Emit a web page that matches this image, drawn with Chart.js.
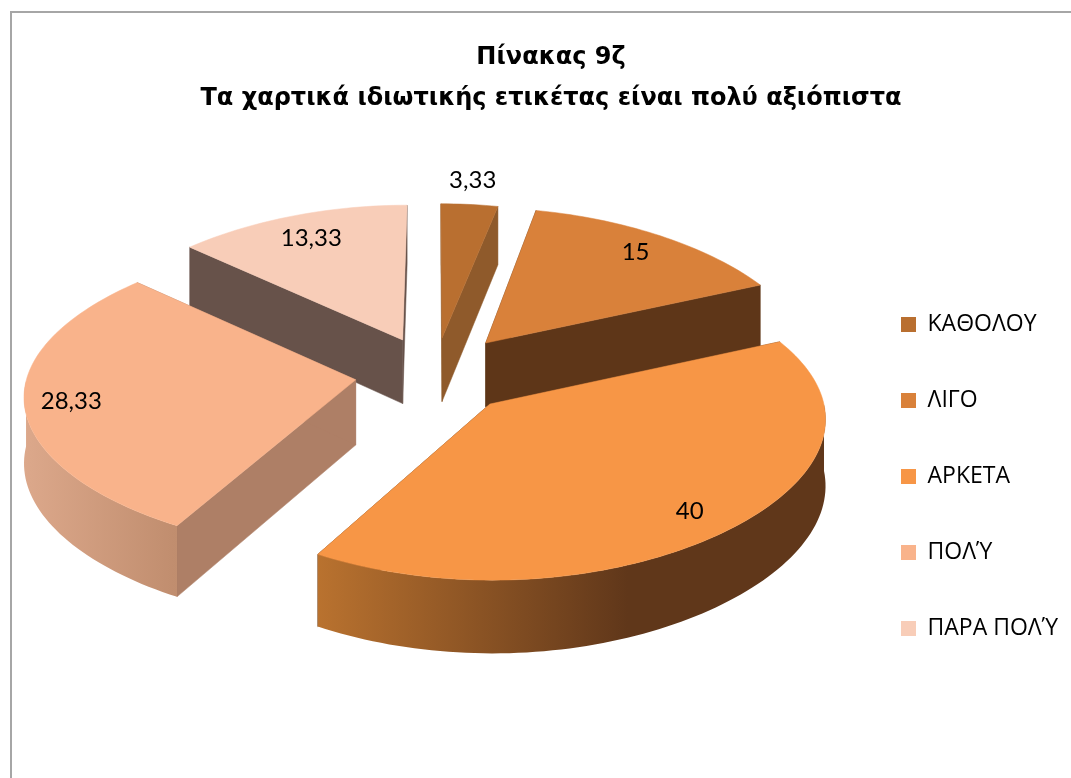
<!DOCTYPE html>
<html>
<head>
<meta charset="utf-8">
<title>Πίνακας 9ζ</title>
<script src="https://cdn.jsdelivr.net/npm/chart.js@4"></script>
<style>
html, body { margin: 0; padding: 0; background: #fff; }
canvas { display: block; }
</style>
</head>
<body>
<canvas id="chart-pie" width="1071" height="778"></canvas>
<script>
// data
const categories = ['ΚΑΘΟΛΟΥ', 'ΛΙΓΟ', 'ΑΡΚΕΤΑ', 'ΠΟΛΎ', 'ΠΑΡΑ ΠΟΛΎ'];
const percentages = [3.33, 15, 40, 28.33, 13.33];
const titleLines = ['Πίνακας 9ζ', 'Τα χαρτικά ιδιωτικής ετικέτας είναι πολύ αξιόπιστα'];

// styling per slice
const topColors = ['#B96F30', '#D9813A', '#F79646', '#F9B38B', '#F8CDB8'];
const wallColors = ['#8F5A2B', '#5E3618', '#63391A', '#AE7F66', '#67524A'];
const sideColors = [['#8F5A2B', '#8F5A2B'], ['#6B3F1C', '#5E3618'], ['#B9722F', '#60371A'], ['#DCA88B', '#C08D6E'], ['#B9998A', '#67524A']];
const explode = [79, 84, 82, 79, 79];
const sliceDy = [-2, -3, -1, -2, -3];
const labelRatio = [1.2, 0.84, 0.85, 0.86, 0.81];
const labelShiftX = [-1, 0, 0, 0, 0];
const drawOrder = [4, 0, 1, 3, 2]; // back to front

const view = { cx: 434, cy: 376, tilt: 0.468, wxA: 0.105, wxB: 0.045, perspY: 0.095, depth: 65 };

// pie plane -> screen, near edge is a bit bigger
function project(u, v, z, R, i) {
    const t = v / R;
    const wx = 1 - view.wxA * t + view.wxB * t * t;
    const wy = 1 - view.perspY * t;
    return { x: view.cx + u / wx, y: view.cy + sliceDy[i] + (view.tilt * v + z) / wy };
}

function slicePoints(el, i) {
    const mid = (el.startAngle + el.endAngle) / 2;
    const off = explode[i];
    return { mid, ou: off * Math.cos(mid), ov: off * Math.sin(mid), R: el.outerRadius };
}

function facePath(ctx, pts) {
    ctx.beginPath();
    pts.forEach((p, n) => n ? ctx.lineTo(p.x, p.y) : ctx.moveTo(p.x, p.y));
    ctx.closePath();
}

function fillFace(ctx, pts, color) {
    facePath(ctx, pts);
    ctx.fillStyle = color;
    ctx.strokeStyle = color;
    ctx.lineWidth = 0.5;
    ctx.fill();
    ctx.stroke();
}

function arcAngles(el) {
    const list = [];
    const steps = Math.max(8, Math.ceil((el.endAngle - el.startAngle) * 40));
    for (let k = 0; k <= steps; k++) list.push(el.startAngle + (el.endAngle - el.startAngle) * k / steps);
    return list;
}

function arcPoint(s, a, z, i) {
    return project(s.ou + s.R * Math.cos(a), s.ov + s.R * Math.sin(a), z, s.R, i);
}

const pie3d = {
    id: 'pie3d',
    beforeDatasetsDraw(chart) {
        const ctx = chart.ctx;
        const arcs = chart.getDatasetMeta(0).data;
        ctx.save();
        drawOrder.forEach(i => {
            const el = arcs[i];
            const s = slicePoints(el, i);
            const angles = arcAngles(el);
            const topArc = angles.map(a => arcPoint(s, a, 0, i));
            const lowArc = angles.map(a => arcPoint(s, a, view.depth, i));
            const hub = project(s.ou, s.ov, 0, s.R, i);
            const hubLow = project(s.ou, s.ov, view.depth, s.R, i);
            // cut faces
            fillFace(ctx, [hub, topArc[0], lowArc[0], hubLow], wallColors[i]);
            fillFace(ctx, [hub, topArc[topArc.length - 1], lowArc[lowArc.length - 1], hubLow], wallColors[i]);
            // outer skin, only the part that faces the viewer
            const near = angles.filter(a => Math.sin(a) >= 0);
            if (near.length > 1) {
                const upper = near.map(a => arcPoint(s, a, 0, i));
                const lower = near.map(a => arcPoint(s, a, view.depth, i));
                const xs = upper.map(p => p.x);
                const x0 = Math.min(...xs);
                const grad = ctx.createLinearGradient(x0, 0, Math.min(Math.max(...xs), x0 + 310), 0);
                grad.addColorStop(0, sideColors[i][0]);
                grad.addColorStop(1, sideColors[i][1]);
                facePath(ctx, upper.concat(lower.slice().reverse()));
                ctx.fillStyle = grad;
                ctx.fill();
            }
            // top
            fillFace(ctx, [hub].concat(topArc), topColors[i]);
        });
        ctx.restore();
        return false;
    },
    afterDraw(chart) {
        const ctx = chart.ctx;
        const arcs = chart.getDatasetMeta(0).data;
        ctx.save();
        ctx.font = '24px Lato, "Open Sans", sans-serif';
        ctx.fillStyle = '#000';
        ctx.textAlign = 'center';
        ctx.textBaseline = 'middle';
        arcs.forEach((el, i) => {
            const s = slicePoints(el, i);
            const r = s.R * labelRatio[i];
            const p = project(s.ou + r * Math.cos(s.mid), s.ov + r * Math.sin(s.mid), 0, s.R, i);
            ctx.fillText(String(percentages[i]).replace('.', ','), p.x + labelShiftX[i], p.y);
        });
        ctx.restore();
    }
};

const chartFrame = {
    id: 'chartFrame',
    beforeDraw(chart) {
        const ctx = chart.ctx;
        ctx.save();
        ctx.fillStyle = '#fff';
        ctx.fillRect(0, 0, chart.width, chart.height);
        ctx.strokeStyle = '#A6A6A6';
        ctx.lineWidth = 2;
        ctx.beginPath();
        ctx.moveTo(11, chart.height);
        ctx.lineTo(11, 12);
        ctx.lineTo(chart.width, 12);
        ctx.stroke();
        ctx.restore();
    }
};

new Chart(document.getElementById('chart-pie'), {
    type: 'pie',
    data: {
        labels: categories,
        datasets: [{ data: percentages, backgroundColor: topColors, borderWidth: 0, offset: explode }]
    },
    options: {
        responsive: false,
        animation: false,
        radius: 328,
        layout: { padding: { left: 34, right: 3, top: 37, bottom: 85 } },
        plugins: {
            tooltip: { enabled: false },
            title: {
                display: true,
                text: titleLines,
                color: '#000',
                font: { family: '"DejaVu Sans", sans-serif', size: 24, weight: 'bold', lineHeight: 1.72 },
                padding: { top: 0, bottom: 40 }
            },
            legend: {
                position: 'right',
                align: 'end',
                labels: {
                    color: '#000',
                    boxWidth: 15,
                    boxHeight: 15,
                    padding: 53,
                    font: { family: '"Open Sans", sans-serif', size: 23 }
                }
            }
        }
    },
    plugins: [chartFrame, pie3d]
});
</script>
</body>
</html>
